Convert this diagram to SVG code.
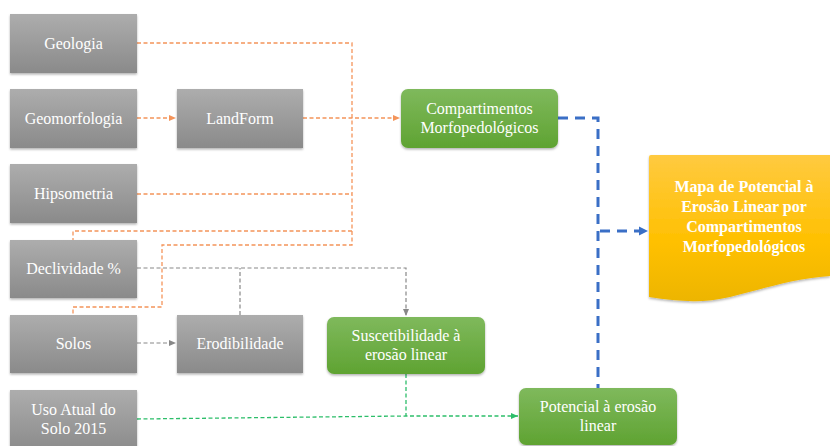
<svg xmlns="http://www.w3.org/2000/svg" width="830" height="446" viewBox="0 0 830 446">
<style>
.g{fill:url(#gg);filter:url(#sh)}
.gr{fill:url(#gn);filter:url(#sh)}
.t{font-family:'Liberation Serif','Times New Roman','DejaVu Serif',serif;font-size:16px;fill:#fff;text-anchor:middle}
.b{font-weight:bold;font-size:16px}
.or{fill:none;stroke:#F4945A;stroke-width:1.3;stroke-dasharray:4 2.5}
.gy{fill:none;stroke:#888;stroke-width:1.2;stroke-dasharray:4 2.5}
.gc{fill:none;stroke:#2DBE6A;stroke-width:1.3;stroke-dasharray:4 2.5}
.bl{fill:none;stroke:#3A6FC6;stroke-width:3;stroke-dasharray:10 7}
</style>
<defs>
<linearGradient id="gg" x1="0" y1="0" x2="0" y2="1"><stop offset="0" stop-color="#ADADAD"/><stop offset="1" stop-color="#8A8A8A"/></linearGradient>
<linearGradient id="gn" x1="0" y1="0" x2="0" y2="1"><stop offset="0" stop-color="#7FB95C"/><stop offset="1" stop-color="#5FA332"/></linearGradient>
<linearGradient id="gy" x1="0" y1="0" x2="0" y2="1"><stop offset="0" stop-color="#FFCA40"/><stop offset="0.6" stop-color="#FFC000"/><stop offset="1" stop-color="#EDB500"/></linearGradient>
<filter id="sh" x="-10%" y="-10%" width="120%" height="130%"><feDropShadow dx="0" dy="1.5" stdDeviation="1.2" flood-color="#000" flood-opacity="0.3"/></filter>
<marker id="ao" markerWidth="8" markerHeight="8" refX="7" refY="4" orient="auto" markerUnits="userSpaceOnUse"><path d="M0,1 L7,4 L0,7Z" fill="#F4945A"/></marker>
<marker id="ag" markerWidth="8" markerHeight="8" refX="7" refY="4" orient="auto" markerUnits="userSpaceOnUse"><path d="M0,1 L7,4 L0,7Z" fill="#888"/></marker>
<marker id="ac" markerWidth="8" markerHeight="8" refX="7" refY="4" orient="auto" markerUnits="userSpaceOnUse"><path d="M0,1 L7,4 L0,7Z" fill="#2DBE6A"/></marker>
<marker id="ab" markerWidth="10" markerHeight="10" refX="9" refY="5" orient="auto" markerUnits="userSpaceOnUse"><path d="M0,0.5 L9,5 L0,9.5Z" fill="#3A6FC6"/></marker>
</defs>
<g id="connectors">
<path class="or" d="M137,43 H352 V245 H162 V307 H73 V315"/>
<path class="or" d="M137,194 H352"/>
<path class="or" d="M352,231 H73 V240"/>
<path class="or" d="M137,118 H176" marker-end="url(#ao)"/>
<path class="or" d="M303,118 H400" marker-end="url(#ao)"/>
<path class="gy" d="M137,268 H406 V316" marker-end="url(#ag)"/>
<path class="gy" d="M240,315 V268"/>
<path class="gy" d="M137,343 H176" marker-end="url(#ag)"/>
<path class="gc" d="M137,419 L406,416 H518" marker-end="url(#ac)"/>
<path class="gc" d="M406,374 V416"/>
<path class="bl" d="M558,118 H598 V388"/>
<path class="bl" d="M600,231 H648" marker-end="url(#ab)"/>
</g>
<g class="t" font-family="'Liberation Serif', 'Times New Roman', serif">
<g id="geologia"><rect class="g" x="10" y="14" width="127" height="59"/><text x="73.5" y="49">Geologia</text></g>
<g id="geomorfologia"><rect class="g" x="10" y="89" width="127" height="59"/><text x="73.5" y="124">Geomorfologia</text></g>
<g id="hipsometria"><rect class="g" x="10" y="164" width="127" height="59"/><text x="73.5" y="199">Hipsometria</text></g>
<g id="declividade"><rect class="g" x="10" y="240" width="127" height="58"/><text x="73.5" y="274">Declividade %</text></g>
<g id="solos"><rect class="g" x="10" y="315" width="127" height="58"/><text x="73.5" y="349">Solos</text></g>
<g id="uso"><rect class="g" x="10" y="390" width="127" height="62"/><text x="73.5" y="415">Uso Atual do</text><text x="73.5" y="434">Solo 2015</text></g>
<g id="landform"><rect class="g" x="177" y="89" width="126" height="59"/><text x="240" y="124">LandForm</text></g>
<g id="erodibilidade"><rect class="g" x="177" y="315" width="126" height="58"/><text x="240" y="349">Erodibilidade</text></g>
<g id="compartimentos"><rect class="gr" x="401" y="89" width="157" height="59" rx="7"/><text x="479.5" y="114">Compartimentos</text><text x="479.5" y="133">Morfopedológicos</text></g>
<g id="suscetibilidade"><rect class="gr" x="327" y="317" width="158" height="57" rx="7"/><text x="406" y="341">Suscetibilidade à</text><text x="406" y="360">erosão linear</text></g>
<g id="potencial"><rect class="gr" x="519" y="388" width="158" height="57" rx="7"/><text x="598" y="412">Potencial à erosão</text><text x="598" y="431">linear</text></g>
<g id="mapa"><path d="M649,157 Q649,155 651,155 H830 V276 C790,279 760,290 730,297 C705,303 680,302 649,297 Z" fill="url(#gy)" filter="url(#sh)"/>
<text class="b" x="744" y="192">Mapa de Potencial à</text><text class="b" x="744" y="212">Erosão Linear por</text><text class="b" x="744" y="232">Compartimentos</text><text class="b" x="744" y="252">Morfopedológicos</text></g>
</g>
</svg>
